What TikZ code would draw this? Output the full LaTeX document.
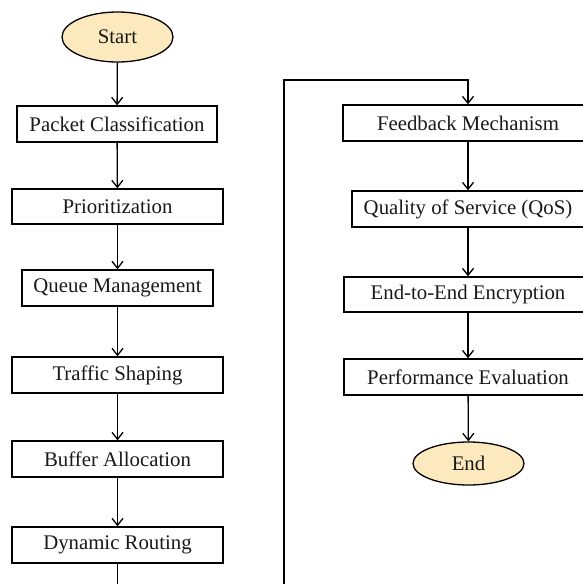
\documentclass[tikz,border=0pt]{standalone}
\usepackage{fontspec}
\setmainfont{Liberation Serif}
\usetikzlibrary{arrows.meta,shapes.geometric}
\definecolor{termfill}{RGB}{252,234,190}
\begin{document}
\begin{tikzpicture}[x=1pt,y=-1pt,
  every node/.style={font=\fontsize{20.8}{24}\selectfont, inner sep=0pt, text=black!90},
  stepbox/.style={draw, line width=1.3pt, rectangle, minimum height=36pt},
  terminal/.style={draw, line width=1.3pt, ellipse, fill=termfill, minimum width=111pt},
  flow/.style={line width=1.3pt, -{Straight Barb[length=7pt,width=11pt,line width=1.3pt]}}
]
\clip (0,0) rectangle (583,584);
\fill[white] (0,0) rectangle (583,584);

% left column
\node[terminal, minimum height=50pt] (start) at (117.5,37) {Start};
\node[stepbox, minimum width=200pt] (pc) at (117,124) {Packet Classification};
\node[stepbox, minimum width=211pt, minimum height=35pt] (pr) at (117.5,206.5) {Prioritization};
\node[stepbox, minimum width=191pt] (qm) at (117.5,288) {Queue Management};
\node[stepbox, minimum width=211pt] (ts) at (117.5,375) {Traffic Shaping};
\node[stepbox, minimum width=211pt] (ba) at (117.5,459) {Buffer Allocation};
\node[stepbox, minimum width=211pt] (dr) at (117.5,545) {Dynamic Routing};

% right column
\node[stepbox, minimum width=250pt] (fm) at (468,123) {Feedback Mechanism};
\node[stepbox, minimum width=232pt] (qos) at (468,209) {Quality of Service (QoS)};
\node[stepbox, minimum width=248pt, minimum height=35pt] (ee) at (468,294.5) {End-to-End Encryption};
\node[stepbox, minimum width=248pt] (pe) at (468,377) {Performance Evaluation};
\node[terminal, minimum height=43pt] (end) at (468.5,463.5) {End};

% connectors
\draw[flow] (start) -- (pc);
\draw[flow] (pc) -- (pr);
\draw[flow] (pr) -- (qm);
\draw[flow] (qm) -- (ts);
\draw[flow] (ts) -- (ba);
\draw[flow] (ba) -- (dr);

\coordinate (drout) at (117.5,600);
\draw[line width=1.3pt] (dr) -- (drout);

\coordinate (loopin) at (284,600);
\coordinate (looptop) at (284,80);
\draw[flow] (loopin) -- (looptop) -| (fm.north);

\draw[flow] (fm) -- (qos);
\draw[flow] (qos) -- (ee);
\draw[flow] (ee) -- (pe);
\draw[flow] (pe) -- (end);
\end{tikzpicture}
\end{document}
